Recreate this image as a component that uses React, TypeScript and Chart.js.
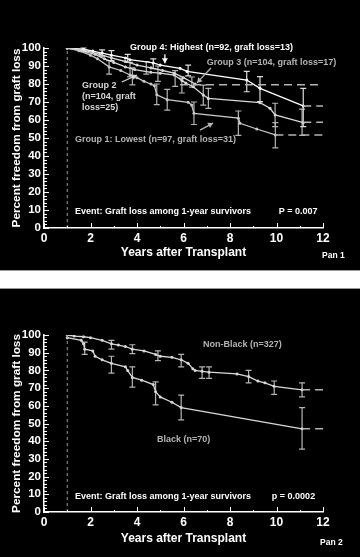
import React, { useEffect, useRef } from "react";
import { Chart, registerables } from "chart.js";
Chart.register(...registerables);

const FONT = "'Liberation Sans', Arial, Helvetica, sans-serif";

// ---------- Panel 1 data ----------
const xTicks = [0, 2, 4, 6, 8, 10, 12];
const g4X = [1, 1.7, 2.1, 2.5, 2.9, 3.5, 3.7, 4.7, 5.0, 5.85, 6.15, 8.72, 9.29, 11.15];
const g4Y = [100, 99.3, 98.3, 97.2, 96, 94.5, 93.5, 91.7, 90.5, 88.7, 87, 82.2, 77.6, 67.8];
const g4ErrX = [1.7, 2.5, 2.9, 3.6, 4.7, 6.2, 8.72, 9.29, 11.15];
const g4ErrLo = [98, 95.5, 93, 92, 88.5, 84.5, 75.7, 70.2, 56.3];
const g4ErrHi = [100, 99, 98.5, 96.5, 94, 90.5, 87, 84.1, 77.6];
const g4Tail = [11.15, 12];
const g4TailY = 67.8;

const g3X = [1, 1.8, 2.4, 2.9, 3.5, 4.0, 4.6, 5.1, 5.6, 6.0, 6.5];
const g3Y = [100, 98.5, 96.5, 94.5, 92.5, 90.5, 89, 87.5, 86, 83.5, 80];
const g3ErrX = [4.4, 5.64, 6.36];
const g3ErrLo = [85.5, 78.7, 78.3];
const g3ErrHi = [92.5, 87.4, 83.9];
const g3Tail = [5.85, 12];
const g3TailY = 79.6;

const g2X = [1, 1.6, 2.2, 2.6, 3.0, 3.5, 3.9, 4.6, 5.0, 5.6, 5.93, 6.1, 6.42, 6.85, 7.07, 9.29, 9.72, 9.94, 11.15];
const g2Y = [100, 98.5, 96.5, 94, 92, 89.5, 88, 86.5, 86, 85, 82, 80.5, 78.5, 73.9, 72, 69.6, 66.5, 62.8, 58.5];
const g2ErrX = [3.7, 4.9, 5.93, 6.85, 7.07, 9.94, 11.1];
const g2ErrLo = [84, 81.5, 75, 68.3, 66.5, 56.3, 51.5];
const g2ErrHi = [92, 90, 83.3, 79.4, 77.6, 69.3, 66];
const g2Tail = [11.15, 12];
const g2TailY = 58.8;

const g1X = [1, 1.5, 2, 2.3, 2.8, 3.3, 3.7, 4.0, 4.3, 4.6, 4.75, 4.85, 5.3, 6.2, 6.35, 6.45, 8.36, 8.43, 9.15, 9.95];
const g1Y = [100, 98.5, 96, 94, 89.5, 87.5, 85, 83.5, 81.5, 80, 79, 74, 71.3, 69.8, 68.3, 63.7, 61, 58.2, 55, 51.7];
const g1ErrX = [2.8, 3.8, 4.85, 5.3, 6.45, 8.36, 9.95];
const g1ErrLo = [85.5, 79.5, 68.5, 65.5, 57.5, 51.5, 44.5];
const g1ErrHi = [93, 89, 80, 77, 70, 65, 58.5];
const g1Tail = [9.95, 12];
const g1TailY = 51.7;

// ---------- Panel 2 data ----------
const nbX = [1, 1.3, 1.7, 2.0, 2.5, 2.9, 3.2, 3.5, 3.8, 4.3, 4.8, 5.0, 5.5, 5.9, 6.2, 6.4, 6.5, 6.8, 7.1, 8.3, 8.8, 9.2, 9.5, 9.9, 11.1];
const nbY = [100, 99.4, 99, 98.5, 97, 95, 94.3, 93.5, 92, 91, 89, 88, 87.4, 86, 84, 81, 80, 79.5, 79, 78, 76.5, 74, 73, 71, 69];
const nbErrX = [2.9, 3.8, 4.9, 5.9, 6.8, 7.1, 8.8, 9.9, 11.1];
const nbErrLo = [92, 89.5, 85.5, 82, 75.5, 75.5, 73, 66.5, 65];
const nbErrHi = [97, 94.5, 91, 89, 82, 82, 80, 74, 73];
const nbTail = [11.1, 12];
const nbTailY = 69;

const bkX = [1, 1.6, 1.7, 1.75, 2.1, 2.2, 2.5, 2.9, 3.5, 3.6, 3.8, 4.2, 4.7, 4.8, 5.0, 5.5, 5.9, 11.1];
const bkY = [98.5, 97, 95, 92, 91, 88, 86, 84, 82, 80, 76, 74.5, 72, 68, 65, 62, 59, 47];
const bkErrX = [1.75, 2.9, 3.8, 4.8, 5.9, 11.1];
const bkErrLo = [89, 78.5, 70.5, 60.5, 52, 35.5];
const bkErrHi = [96, 88, 82, 73.5, 66, 59];
const bkTail = [11.1, 12];
const bkTailY = 47;

const startLineX = 1;

type Note = { text: string; x: number; y: number; color: string; size: number; px?: boolean };
type Arrow = { x1: number; y1: number; x2: number; y2: number; color: string };
type Err = { xs: number[]; lo: number[]; hi: number[]; color: string };

const pts = (xs: number[], ys: number[]) => xs.map((x, i) => ({ x, y: ys[i] }));
const flat = (xs: number[], y: number) => xs.map((x) => ({ x, y }));

const customPlugin = {
  id: "custom",
  beforeDatasetsDraw(chart: any, _a: any, opts: any) {
    const { ctx, scales } = chart;
    const xs = scales.x, ys = scales.y;
    (opts.errors || []).forEach((e: Err) => {
      ctx.save();
      ctx.strokeStyle = e.color;
      ctx.lineWidth = 1.2;
      e.xs.forEach((x, i) => {
        const px = xs.getPixelForValue(x);
        const p1 = ys.getPixelForValue(e.lo[i]);
        const p2 = ys.getPixelForValue(e.hi[i]);
        ctx.beginPath();
        ctx.moveTo(px, p1); ctx.lineTo(px, p2);
        ctx.moveTo(px - 3, p1); ctx.lineTo(px + 3, p1);
        ctx.moveTo(px - 3, p2); ctx.lineTo(px + 3, p2);
        ctx.stroke();
      });
      ctx.restore();
    });
  },
  afterDraw(chart: any, _a: any, opts: any) {
    const { ctx, scales } = chart;
    const xs = scales.x, ys = scales.y;
    ctx.save();
    ctx.strokeStyle = "#ffffff";
    ctx.lineWidth = 1;
    const x0 = xs.getPixelForValue(0);
    const y0 = ys.getPixelForValue(0);
    for (let v = 0; v <= 100; v += 2) {
      const py = Math.round(ys.getPixelForValue(v)) + 0.5;
      const len = v % 10 === 0 ? 5 : 3;
      ctx.beginPath(); ctx.moveTo(x0, py); ctx.lineTo(x0 + len, py); ctx.stroke();
    }
    for (let v = 0; v <= 12; v += 1) {
      const px = Math.round(xs.getPixelForValue(v)) + 0.5;
      const len = v % 2 === 0 ? 5 : 2;
      ctx.beginPath(); ctx.moveTo(px, y0); ctx.lineTo(px, y0 - len); ctx.stroke();
    }
    (opts.arrows || []).forEach((a: Arrow) => {
      const ax1 = xs.getPixelForValue(a.x1), ay1 = ys.getPixelForValue(a.y1);
      const ax2 = xs.getPixelForValue(a.x2), ay2 = ys.getPixelForValue(a.y2);
      ctx.strokeStyle = a.color; ctx.fillStyle = a.color; ctx.lineWidth = 1.3;
      ctx.beginPath(); ctx.moveTo(ax1, ay1); ctx.lineTo(ax2, ay2); ctx.stroke();
      const ang = Math.atan2(ay2 - ay1, ax2 - ax1);
      const L = 5, W = 3;
      ctx.beginPath();
      ctx.moveTo(ax2, ay2);
      ctx.lineTo(ax2 - L * Math.cos(ang) + W * Math.sin(ang), ay2 - L * Math.sin(ang) - W * Math.cos(ang));
      ctx.lineTo(ax2 - L * Math.cos(ang) - W * Math.sin(ang), ay2 - L * Math.sin(ang) + W * Math.cos(ang));
      ctx.closePath(); ctx.fill();
    });
    ctx.textBaseline = "middle";
    ctx.textAlign = "left";
    (opts.notes || []).forEach((n: Note) => {
      ctx.font = `bold ${n.size}px ${FONT}`;
      ctx.fillStyle = n.color;
      const px = n.px ? n.x : xs.getPixelForValue(n.x);
      const py = n.px ? n.y : ys.getPixelForValue(n.y);
      ctx.fillText(n.text, px, py);
    });
    ctx.restore();
  },
};

const bgPlugin = {
  id: "bg",
  beforeDraw(chart: any) {
    const { ctx, width, height } = chart;
    ctx.save(); ctx.fillStyle = "#000"; ctx.fillRect(0, 0, width, height); ctx.restore();
  },
};

type PanelProps = {
  height: number;
  top: number;
  axisY: number;
  datasets: any[];
  errors: Err[];
  notes: Note[];
  arrows: Arrow[];
  xTitleOffset: number;
};

function Panel(p: PanelProps) {
  const ref = useRef<HTMLCanvasElement>(null);
  useEffect(() => {
    const chart = new Chart(ref.current!, {
      type: "scatter",
      data: { datasets: p.datasets },
      plugins: [bgPlugin, customPlugin],
      options: {
        animation: false,
        responsive: false,
        devicePixelRatio: 1,
        layout: { padding: { top: p.top, right: 37, left: 0, bottom: 0 } },
        plugins: {
          legend: { display: false },
          tooltip: { enabled: false },
          custom: { errors: p.errors, notes: p.notes, arrows: p.arrows },
        } as any,
        scales: {
          x: {
            type: "linear",
            min: 0,
            max: 12,
            afterBuildTicks: (s: any) => { s.ticks = xTicks.map((v) => ({ value: v })); },
            afterFit: (s: any) => { s.height = p.height - p.axisY; },
            grid: { display: false, drawTicks: false },
            border: { display: true, color: "#ffffff", width: 1.5 },
            ticks: { color: "#ffffff", font: { family: FONT, size: 12, weight: "bold" }, padding: 3 },
            title: {
              display: true,
              text: "Years after Transplant",
              color: "#ffffff",
              font: { family: FONT, size: 12, weight: "bold" },
              padding: { top: 0, bottom: p.xTitleOffset - 7.2 },
            },
          },
          y: {
            type: "linear",
            min: 0,
            max: 100,
            afterFit: (s: any) => { s.width = 44; },
            grid: { display: false, drawTicks: false },
            border: { display: true, color: "#ffffff", width: 1.5 },
            ticks: { stepSize: 10, color: "#ffffff", font: { family: FONT, size: 11.5, weight: "bold" }, padding: 3 },
            title: {
              display: true,
              text: "Percent freedom from graft loss",
              color: "#ffffff",
              font: { family: FONT, size: 11.8, weight: "bold" },
              padding: { top: 10, bottom: 0 },
            },
          },
        },
      } as any,
    });
    return () => chart.destroy();
  }, []);
  return <canvas ref={ref} width={360} height={p.height} style={{ display: "block" }} />;
}

const line = (data: any[], color: string, radius = 1.5) => ({
  data, showLine: true, borderColor: color, backgroundColor: color,
  borderWidth: 1.3, pointRadius: radius, pointBorderWidth: 0, tension: 0,
});
const dashed = (data: any[], color: string, dash: number[], width = 1.5) => ({
  data, showLine: true, borderColor: color, borderWidth: width,
  borderDash: dash, pointRadius: 0, tension: 0,
});

const GRAY = "#b4b4b4";
const LIGHT = "#d8d8d8";

export default function App() {
  useEffect(() => {
    document.body.style.margin = "0";
    document.body.style.background = "#fff";
  }, []);

  const ds1 = [
    dashed([{ x: startLineX, y: 0 }, { x: startLineX, y: 100 }], "#9a9a9a", [3, 3], 1),
    dashed(flat(g3Tail, g3TailY), GRAY, [8, 5]),
    dashed(flat(g4Tail, g4TailY), GRAY, [8, 5]),
    dashed(flat(g2Tail, g2TailY), GRAY, [8, 5]),
    dashed(flat(g1Tail, g1TailY), GRAY, [8, 5]),
    line(pts(g1X, g1Y), "#c8c8c8"),
    line(pts(g2X, g2Y), LIGHT),
    line(pts(g3X, g3Y), LIGHT),
    line(pts(g4X, g4Y), "#ffffff"),
  ];
  const err1: Err[] = [
    { xs: g1ErrX, lo: g1ErrLo, hi: g1ErrHi, color: GRAY },
    { xs: g2ErrX, lo: g2ErrLo, hi: g2ErrHi, color: GRAY },
    { xs: g3ErrX, lo: g3ErrLo, hi: g3ErrHi, color: GRAY },
    { xs: g4ErrX, lo: g4ErrLo, hi: g4ErrHi, color: "#dddddd" },
  ];
  const notes1: Note[] = [
    { text: "Group 4: Highest (n=92, graft loss=13)", x: 3.7, y: 100, color: "#ffffff", size: 9 },
    { text: "Group 3 (n=104, graft loss=17)", x: 7.0, y: 92.2, color: GRAY, size: 9 },
    { text: "Group 2", x: 1.63, y: 79.4, color: LIGHT, size: 9 },
    { text: "(n=104, graft", x: 1.63, y: 72.8, color: LIGHT, size: 9 },
    { text: "loss=25)", x: 1.63, y: 66.7, color: LIGHT, size: 9 },
    { text: "Group 1: Lowest (n=97, graft loss=31)", x: 1.33, y: 48.9, color: GRAY, size: 9 },
    { text: "Event: Graft loss among 1-year survivors", x: 1.33, y: 8.9, color: "#ffffff", size: 9 },
    { text: "P = 0.007", x: 10.1, y: 9.4, color: "#ffffff", size: 9 },
    { text: "Pan 1", x: 322, y: 256, color: "#ffffff", size: 8.5, px: true },
  ];
  const arrows1: Arrow[] = [
    { x1: 5.2, y1: 96.5, x2: 5.2, y2: 91.5, color: "#ffffff" },
    { x1: 7.18, y1: 88.9, x2: 6.58, y2: 80.6, color: GRAY },
    { x1: 3.35, y1: 81.1, x2: 4.0, y2: 85, color: LIGHT },
    { x1: 6.71, y1: 54.4, x2: 7.27, y2: 58.3, color: GRAY },
  ];

  const ds2 = [
    dashed([{ x: startLineX, y: 0 }, { x: startLineX, y: 100 }], "#9a9a9a", [3, 3], 1),
    dashed(flat(nbTail, nbTailY), GRAY, [8, 5]),
    dashed(flat(bkTail, bkTailY), GRAY, [8, 5]),
    line(pts(bkX, bkY), LIGHT),
    line(pts(nbX, nbY), LIGHT),
  ];
  const err2: Err[] = [
    { xs: nbErrX, lo: nbErrLo, hi: nbErrHi, color: GRAY },
    { xs: bkErrX, lo: bkErrLo, hi: bkErrHi, color: GRAY },
  ];
  const notes2: Note[] = [
    { text: "Non-Black (n=327)", x: 6.84, y: 94.4, color: GRAY, size: 9 },
    { text: "Black (n=70)", x: 4.86, y: 41.2, color: GRAY, size: 9 },
    { text: "Event: Graft loss among 1-year survivors", x: 1.33, y: 9.0, color: "#ffffff", size: 9 },
    { text: "p = 0.0002", x: 9.8, y: 9.0, color: "#ffffff", size: 9 },
    { text: "Pan 2", x: 320, y: 254, color: "#ffffff", size: 8.5, px: true },
  ];

  return (
    <div style={{ width: 360 }}>
      <div style={{ height: 270, background: "#000", borderBottom: "1px solid #999" }}>
        <Panel height={270} top={48} axisY={228} datasets={ds1} errors={err1} notes={notes1} arrows={arrows1} xTitleOffset={17} />
      </div>
      <div style={{ height: 17, background: "#fff" }} />
      <div style={{ height: 268, background: "#000", borderTop: "1px solid #999" }}>
        <Panel height={268} top={46} axisY={223} datasets={ds2} errors={err2} notes={notes2} arrows={[]} xTitleOffset={18} />
      </div>
    </div>
  );
}
